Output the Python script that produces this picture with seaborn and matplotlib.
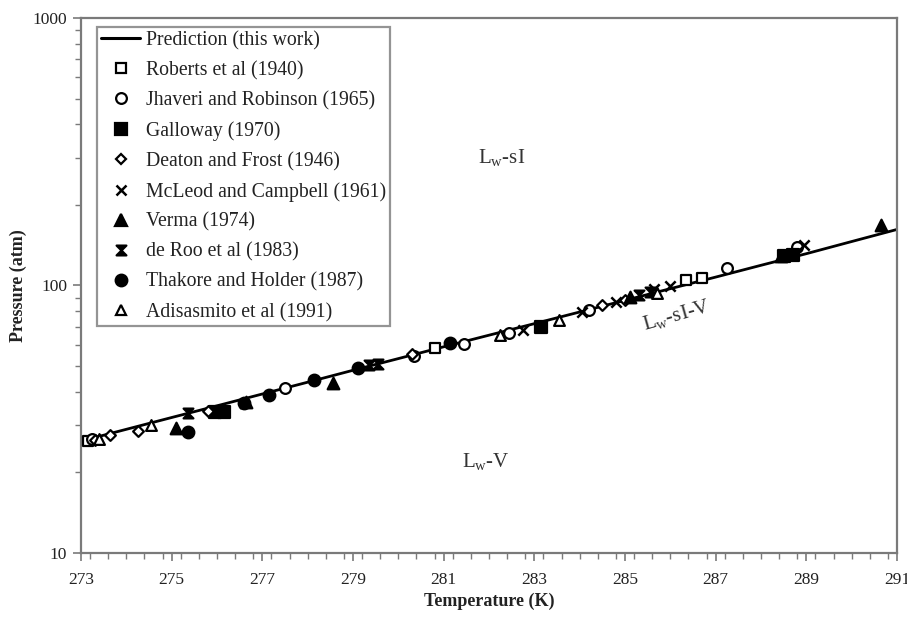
import numpy as np
import pandas as pd
import matplotlib
matplotlib.use("Agg")
import matplotlib.pyplot as plt
import seaborn as sns
from matplotlib.path import Path
from matplotlib.lines import Line2D
from matplotlib.ticker import MultipleLocator, LogLocator, FixedLocator, NullFormatter

# ---------------- data ----------------
pred_T = [273, 274, 275, 276, 277, 278, 279, 280, 281, 282, 283, 284, 285, 286, 287, 288, 289, 290, 291]
pred_P = [26.2, 29.0, 32.1, 35.5, 39.3, 43.5, 48.2, 53.3, 59.0, 65.2, 72.0, 79.6, 88.0, 97.3, 107.5, 119.0, 131.5, 146.0, 162.0]

roberts_T = [273.15, 280.8, 286.35, 286.7]
roberts_P = [26.2, 58.5, 104.5, 106.5]

jhaveri_T = [273.25, 277.5, 280.35, 281.45, 282.45, 284.2, 287.25, 288.8]
jhaveri_P = [26.6, 41.4, 54.5, 60.4, 66.4, 81.0, 116.3, 139.3]

galloway_T = [275.95, 276.15, 283.15, 288.5, 288.7]
galloway_P = [33.7, 33.7, 69.9, 128.9, 130.0]

deaton_T = [273.3, 273.65, 274.25, 275.8, 280.3, 284.5, 285.0]
deaton_P = [26.5, 27.6, 28.6, 34.0, 55.5, 84.6, 88.5]

mcleod_T = [282.75, 284.05, 284.8, 285.65, 286.0, 288.95]
mcleod_P = [68.2, 79.6, 86.8, 97.0, 99.5, 141.7]

verma_T = [275.1, 276.65, 278.55, 285.1, 288.45, 290.65]
verma_P = [29.3, 36.7, 43.2, 90.6, 128.5, 168.0]

deroo_T = [275.35, 279.35, 279.55, 285.3, 285.55]
deroo_P = [33.4, 50.4, 50.8, 92.2, 94.6]

thakore_T = [275.35, 276.6, 277.15, 278.15, 279.1, 281.15, 288.6]
thakore_P = [28.3, 36.4, 39.0, 44.3, 49.2, 61.0, 129.5]

adisasmito_T = [273.4, 274.55, 282.25, 283.55, 285.7]
adisasmito_P = [26.7, 30.1, 65.3, 74.3, 93.5]

x_ticks = [273, 275, 277, 279, 281, 283, 285, 287, 289, 291]
y_ticks = [10, 100, 1000]

# ---------------- style ----------------
sns.set_theme(style="white")
plt.rcParams['font.family'] = ['Liberation Serif', 'DejaVu Serif']
plt.rcParams['mathtext.fontset'] = 'custom'
plt.rcParams['mathtext.rm'] = 'Liberation Serif'
plt.rcParams['mathtext.it'] = 'Liberation Serif:italic'

fig = plt.figure(figsize=(9.07, 6.23), dpi=100)
ax = fig.add_axes([81/907, 1-553/623, (897-81)/907, (553-18)/623])

hourglass = Path([(-1, 1), (1, 1), (-1, -1), (1, -1), (-1, 1)],
                 [Path.MOVETO, Path.LINETO, Path.LINETO, Path.LINETO, Path.CLOSEPOLY])

series = [
    ("Roberts et al (1940)", roberts_T, roberts_P, 's', 'white', 60),
    ("Jhaveri and Robinson (1965)", jhaveri_T, jhaveri_P, 'o', 'white', 60),
    ("Galloway (1970)", galloway_T, galloway_P, 's', 'black', 70),
    ("Deaton and Frost (1946)", deaton_T, deaton_P, 'D', 'white', 30),
    ("McLeod and Campbell (1961)", mcleod_T, mcleod_P, 'x', 'black', 55),
    ("Verma (1974)", verma_T, verma_P, '^', 'black', 70),
    ("de Roo et al (1983)", deroo_T, deroo_P, hourglass, 'black', 50),
    ("Thakore and Holder (1987)", thakore_T, thakore_P, 'o', 'black', 70),
    ("Adisasmito et al (1991)", adisasmito_T, adisasmito_P, '^', 'white', 60),
]

pred_df = pd.DataFrame({"T": pred_T, "P": pred_P})
sns.lineplot(data=pred_df, x="T", y="P", ax=ax, color='black', linewidth=2.0, zorder=2)

handles = [Line2D([0], [0], color='black', linewidth=2.2)]
labels = ["Prediction (this work)"]
for name, T, P, m, fc, s in series:
    df = pd.DataFrame({"T": T, "P": P})
    if m == 'x':
        sns.scatterplot(data=df, x="T", y="P", ax=ax, marker='x', color='black',
                        s=s, linewidth=1.8, zorder=3)
    else:
        sns.scatterplot(data=df, x="T", y="P", ax=ax, marker=m, facecolor=fc,
                        edgecolor='black', s=s, linewidth=1.6, zorder=3)
    ms = np.sqrt(s)
    if m == 'x':
        h = Line2D([0], [0], marker='x', linestyle='none', color='black', markersize=ms, markeredgewidth=1.8)
    else:
        h = Line2D([0], [0], marker=m, linestyle='none', markerfacecolor=fc,
                   markeredgecolor='black', markersize=ms, markeredgewidth=1.6)
    handles.append(h)
    labels.append(name)

ax.set_yscale('log')
ax.set_xlim(273, 291)
ax.set_ylim(10, 1000)

ax.xaxis.set_major_locator(FixedLocator(x_ticks))
ax.xaxis.set_minor_locator(MultipleLocator(0.4))
ax.set_xticklabels([str(t) for t in x_ticks])
ax.yaxis.set_major_locator(FixedLocator(y_ticks))
ax.yaxis.set_minor_locator(LogLocator(base=10, subs=np.arange(2, 10)))
ax.yaxis.set_minor_formatter(NullFormatter())
ax.set_yticklabels([str(t) for t in y_ticks])

gray = '#7a7a7a'
for sp in ax.spines.values():
    sp.set_color(gray)
    sp.set_linewidth(1.6)
ax.tick_params(axis='both', which='both', bottom=True, left=True, top=False, right=False)
ax.tick_params(axis='both', which='major', direction='out', length=6, width=1.2,
               color=gray, labelsize=12.5, labelcolor='#222222')
ax.tick_params(axis='both', which='minor', direction='out', length=4, width=1.0, color=gray)
ax.tick_params(axis='x', which='major', pad=8)
ax.tick_params(axis='y', which='major', pad=4)

ax.set_xlabel("Temperature (K)", fontsize=13, fontweight='bold', color='#222222', labelpad=3)
ax.set_ylabel("Pressure (atm)", fontsize=13, fontweight='bold', color='#222222', labelpad=4)

ax.text(281.75, 300, r"L$_\mathregular{w}$-sI", fontsize=15, color='#333333', ha='left', va='center')
ax.text(285.4, 71, r"L$_\mathregular{w}$-sI-V", fontsize=15, color='#333333', ha='left', va='center',
        rotation=16, rotation_mode='anchor')
ax.text(281.4, 22, r"L$_\mathregular{w}$-V", fontsize=15, color='#333333', ha='left', va='center')

leg = ax.legend(handles, labels, loc='upper left', bbox_to_anchor=(16/816, (553-27)/535),
                borderaxespad=0, frameon=True, fancybox=False, fontsize=14.2,
                handlelength=2.0, handletextpad=0.3, labelspacing=0.55, borderpad=0.2)
leg.get_frame().set_edgecolor(gray)
leg.get_frame().set_linewidth(1.6)
for t in leg.get_texts():
    t.set_color('#222222')

fig.savefig("out.png", dpi=100)
